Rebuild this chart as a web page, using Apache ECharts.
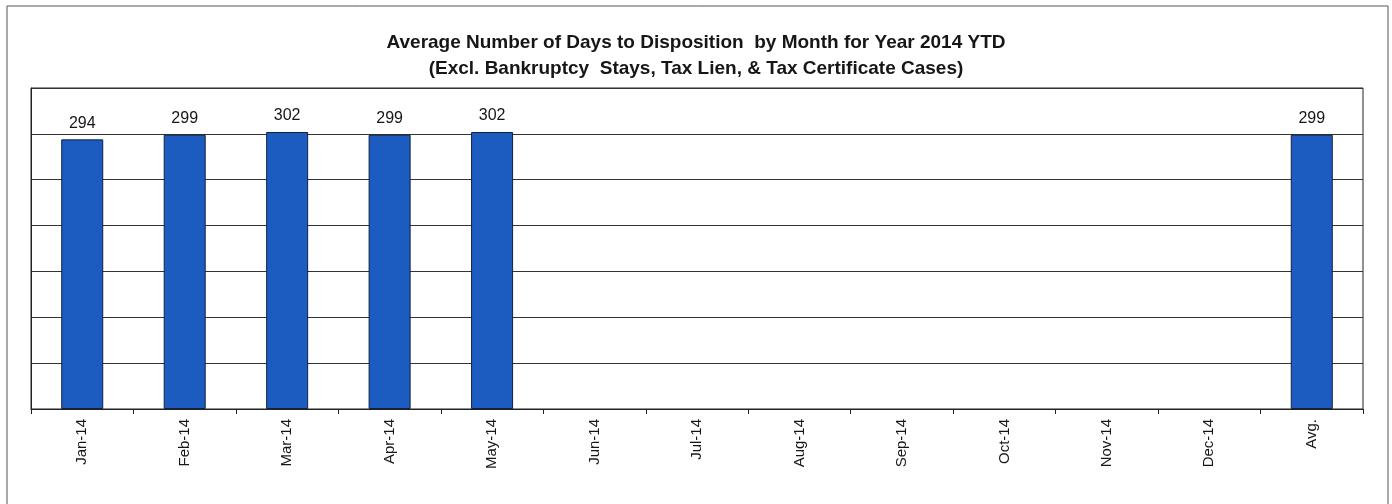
<!DOCTYPE html>
<html>
<head>
<meta charset="utf-8">
<script src="https://cdn.jsdelivr.net/npm/echarts@6/dist/echarts.min.js"></script>
<style>
  html, body { margin: 0; padding: 0; background: #fff; }
  #chart { width: 1392px; height: 504px; }
</style>
</head>
<body>
<div id="chart"></div>
<script>
// months of 2014 plus the average column
const months = ["Jan-14", "Feb-14", "Mar-14", "Apr-14", "May-14", "Jun-14", "Jul-14",
  "Aug-14", "Sep-14", "Oct-14", "Nov-14", "Dec-14", "Avg."];
// average days to disposition (blank = no data yet)
const avgDays = [294, 299, 302, 299, 302, null, null, null, null, null, null, null, 299];

const chart = echarts.init(document.getElementById("chart"));
chart.setOption({
  animation: false,
  title: {
    text: "Average Number of Days to Disposition  by Month for Year 2014 YTD\n(Excl. Bankruptcy  Stays, Tax Lien, & Tax Certificate Cases)",
    left: "center",
    top: 25,
    textStyle: {
      fontFamily: "Liberation Sans, Arial",
      fontSize: 19,
      fontWeight: "bold",
      color: "#161616",
      lineHeight: 26,
    },
  },
  grid: {
    left: 31, right: 29, top: 88, bottom: 95,
    show: true, borderColor: "#222", borderWidth: 1, backgroundColor: "transparent",
  },
  xAxis: {
    type: "category",
    data: months,
    axisLine: { lineStyle: { color: "#222", width: 1 } },
    axisTick: { show: true, alignWithLabel: false, length: 5, lineStyle: { color: "#222" } },
    axisLabel: {
      rotate: 90,
      margin: 10,
      fontFamily: "Liberation Sans, Arial",
      fontSize: 15,
      color: "#161616",
    },
  },
  yAxis: {
    type: "value",
    min: 0,
    max: 350,
    interval: 50,
    axisLabel: { show: false },
    axisLine: { show: true, lineStyle: { color: "#222" } },
    axisTick: { show: false },
    splitLine: { show: true, lineStyle: { color: "#333", width: 1 } },
  },
  series: [
    {
      type: "bar",
      data: avgDays,
      barWidth: "41%",
      itemStyle: { color: "#1c5cc0", borderColor: "#10223f", borderWidth: 1 },
      label: {
        show: true,
        position: "top",
        distance: 8,
        fontFamily: "Liberation Sans, Arial",
        fontSize: 16,
        color: "#161616",
      },
    },
  ],
  graphic: [
    {
      type: "rect",
      shape: { x: 7, y: 6, width: 1381, height: 520 },
      style: { fill: null, stroke: "#555", lineWidth: 1 },
      silent: true,
    },
  ],
});
</script>
</body>
</html>
